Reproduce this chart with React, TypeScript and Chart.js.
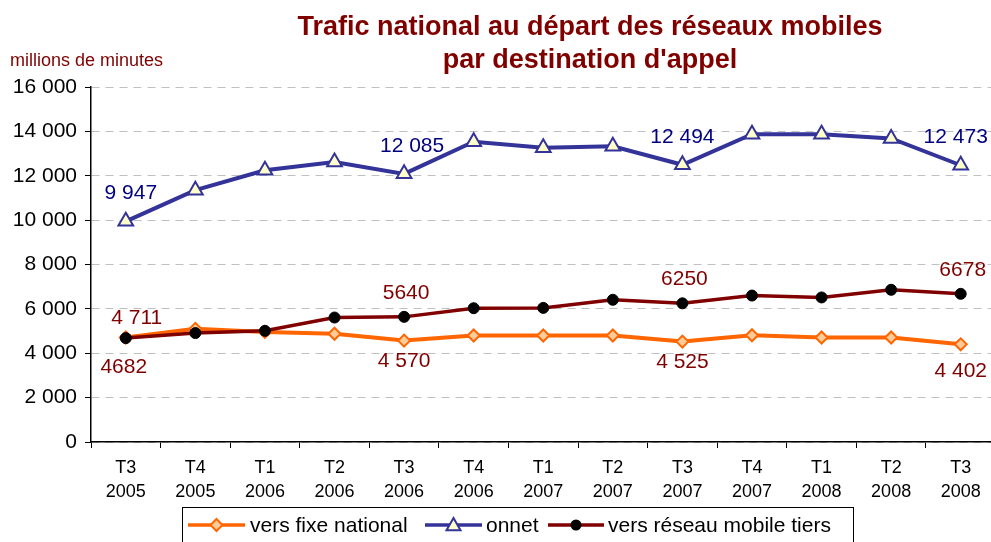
import React, { useEffect, useRef } from "react";
import { Chart, registerables } from "chart.js";

Chart.register(...registerables);

const quarters = ["T3", "T4", "T1", "T2", "T3", "T4", "T1", "T2", "T3", "T4", "T1", "T2", "T3"];
const years = ["2005", "2005", "2006", "2006", "2006", "2006", "2007", "2007", "2007", "2007", "2008", "2008", "2008"];

const fixeNational = [4711, 5100, 4960, 4880, 4570, 4800, 4800, 4800, 4525, 4810, 4710, 4710, 4402];
const onnet = [9947, 11350, 12250, 12620, 12085, 13530, 13260, 13330, 12494, 13870, 13870, 13680, 12473];
const mobileTiers = [4682, 4910, 5010, 5610, 5640, 6030, 6045, 6410, 6250, 6600, 6515, 6860, 6678];

const labelledFixe = [0, 4, 8, 12];
const labelledOnnet = [0, 4, 8, 12];
const labelledMobile = [0, 4, 8, 12];

const yMin = 0;
const yMax = 16000;
const yStep = 2000;

const seriesNames = ["vers fixe national", "onnet", "vers réseau mobile tiers"];
const titleLines = ["Trafic national au départ des réseaux mobiles", "par destination d'appel"];
const unitLabel = "millions de minutes";

const FONT = "'Liberation Sans', Arial, sans-serif";
const ORANGE = "#FF6600";
const ORANGE_FILL = "#FFCC99";
const BLUE = "#333399";
const BLUE_LABEL = "#000080";
const YELLOW_FILL = "#FFFFCC";
const MAROON = "#800000";

const spaced = (v: number) => String(v).replace(/\B(?=(\d{3})+(?!\d))/g, " ");

function drawMarker(ctx: CanvasRenderingContext2D, kind: string, x: number, y: number) {
  ctx.save();
  ctx.lineWidth = 2;
  if (kind === "diamond") {
    const r = 6;
    ctx.beginPath();
    ctx.moveTo(x, y - r);
    ctx.lineTo(x + r, y);
    ctx.lineTo(x, y + r);
    ctx.lineTo(x - r, y);
    ctx.closePath();
    ctx.fillStyle = ORANGE_FILL;
    ctx.strokeStyle = ORANGE;
    ctx.fill();
    ctx.stroke();
  } else if (kind === "triangle") {
    const r = 7;
    ctx.beginPath();
    ctx.moveTo(x, y - r);
    ctx.lineTo(x + r, y + r * 0.75);
    ctx.lineTo(x - r, y + r * 0.75);
    ctx.closePath();
    ctx.fillStyle = YELLOW_FILL;
    ctx.strokeStyle = BLUE;
    ctx.fill();
    ctx.stroke();
  } else {
    ctx.beginPath();
    ctx.arc(x, y, 5.5, 0, Math.PI * 2);
    ctx.fillStyle = "#000";
    ctx.fill();
  }
  ctx.restore();
}

const overlayPlugin = {
  id: "overlay",
  afterDraw(chart: any) {
    const ctx: CanvasRenderingContext2D = chart.ctx;
    ctx.save();
    // Title
    ctx.fillStyle = MAROON;
    ctx.font = `bold 27px ${FONT}`;
    ctx.textAlign = "center";
    ctx.textBaseline = "middle";
    ctx.fillText(titleLines[0], 590, 28);
    ctx.fillText(titleLines[1], 590, 61);
    // unit
    ctx.font = `18px ${FONT}`;
    ctx.textAlign = "left";
    ctx.fillText(unitLabel, 10, 61);

    // data labels
    ctx.font = `21px ${FONT}`;
    ctx.textAlign = "center";
    const metaFixe = chart.getDatasetMeta(2);
    const metaOnnet = chart.getDatasetMeta(1);
    const metaMobile = chart.getDatasetMeta(0);
    ctx.fillStyle = BLUE_LABEL;
    labelledOnnet.forEach((i) => {
      const p = metaOnnet.data[i];
      ctx.fillText(spaced(onnet[i]), p.x + (i === 0 ? 5 : i === 4 ? 8 : i === 12 ? -5 : 0), p.y - 28);
    });
    ctx.fillStyle = MAROON;
    labelledFixe.forEach((i) => {
      const p = metaFixe.data[i];
      if (i === 0) ctx.fillText(spaced(fixeNational[i]), p.x + 11, p.y - 19);
      else ctx.fillText(spaced(fixeNational[i]), p.x, p.y + (i === 12 ? 27 : 21));
    });
    labelledMobile.forEach((i) => {
      const p = metaMobile.data[i];
      if (i === 0) ctx.fillText(String(mobileTiers[i]), p.x - 2, p.y + 29);
      else ctx.fillText(String(mobileTiers[i]), p.x + 2, p.y - 24);
    });

    // legend
    const lx = 182, ly = 507, lw = 671, lh = 45;
    ctx.strokeStyle = "#000";
    ctx.lineWidth = 1;
    ctx.strokeRect(lx + 0.5, ly + 0.5, lw, lh);
    const cy = 525;
    const items = [
      { x0: 188, x1: 245, color: ORANGE, kind: "diamond", tx: 250, text: seriesNames[0] },
      { x0: 425, x1: 482, color: BLUE, kind: "triangle", tx: 486, text: seriesNames[1] },
      { x0: 548, x1: 604, color: MAROON, kind: "circle", tx: 608, text: seriesNames[2] },
    ];
    ctx.font = `21px ${FONT}`;
    ctx.textAlign = "left";
    ctx.textBaseline = "middle";
    items.forEach((it) => {
      ctx.strokeStyle = it.color;
      ctx.lineWidth = 3.5;
      ctx.beginPath();
      ctx.moveTo(it.x0, cy);
      ctx.lineTo(it.x1, cy);
      ctx.stroke();
      drawMarker(ctx, it.kind, (it.x0 + it.x1) / 2, cy);
      ctx.fillStyle = "#000";
      ctx.fillText(it.text, it.tx, cy + 1);
    });
    ctx.restore();
  },
};

export default function App() {
  const canvasRef = useRef<HTMLCanvasElement | null>(null);

  useEffect(() => {
    if (!canvasRef.current) return;
    const labels = quarters.map((q, i) => [q, years[i]]);
    const chart = new Chart(canvasRef.current, {
      type: "line",
      data: {
        labels,
        datasets: [
          {
            label: seriesNames[2],
            data: mobileTiers,
            borderColor: MAROON,
            borderWidth: 3.5,
            pointStyle: "circle",
            pointRadius: 5.5,
            pointBackgroundColor: "#000",
            pointBorderColor: "#000",
            pointBorderWidth: 1,
            order: 0,
          },
          {
            label: seriesNames[1],
            data: onnet,
            borderColor: BLUE,
            borderWidth: 4,
            pointStyle: "triangle",
            pointRadius: 8.5,
            pointBackgroundColor: YELLOW_FILL,
            pointBorderColor: BLUE,
            pointBorderWidth: 2,
            order: 1,
          },
          {
            label: seriesNames[0],
            data: fixeNational,
            borderColor: ORANGE,
            borderWidth: 4,
            pointStyle: "rectRot",
            pointRadius: 6,
            pointBackgroundColor: ORANGE_FILL,
            pointBorderColor: ORANGE,
            pointBorderWidth: 2,
            order: 2,
          },
        ],
      },
      options: {
        animation: false,
        responsive: false,
        devicePixelRatio: 1,
        layout: { padding: { top: 87, left: 0, right: 0, bottom: 0 } },
        plugins: {
          legend: { display: false },
          title: { display: false },
          tooltip: { enabled: false },
        },
        scales: {
          x: {
            offset: true,
            grid: {
              display: true,
              drawOnChartArea: false,
              drawTicks: true,
              tickLength: 6,
              offset: true,
              tickColor: "#000",
              color: "#000",
            },
            border: { display: true, color: "#000", width: 1.5 },
            ticks: {
              color: "#000",
              font: { family: FONT, size: 18, lineHeight: 1.35 },
              padding: 8,
              maxRotation: 0,
              autoSkip: false,
            },
            afterFit: (scale: any) => {
              scale.height = 100;
            },
          },
          y: {
            min: yMin,
            max: yMax,
            grid: {
              color: "#C0C0C0",
              tickColor: "#000",
              tickLength: 6,
              lineWidth: 1,
            },
            border: { display: true, color: "#000", width: 1.5, dash: [8, 6] },
            ticks: {
              stepSize: yStep,
              color: "#000",
              font: { family: FONT, size: 21 },
              padding: 8,
              callback: (v: any) => spaced(Number(v)),
            },
            afterFit: (scale: any) => {
              scale.width = 91;
            },
          },
        },
      },
      plugins: [overlayPlugin],
    });
    return () => chart.destroy();
  }, []);

  return (
    <div style={{ position: "fixed", left: 0, top: 0, width: 991, height: 542, overflow: "hidden", background: "#fff" }}>
      <canvas ref={canvasRef} width={1006} height={542} style={{ width: 1006, height: 542, display: "block" }} />
    </div>
  );
}
